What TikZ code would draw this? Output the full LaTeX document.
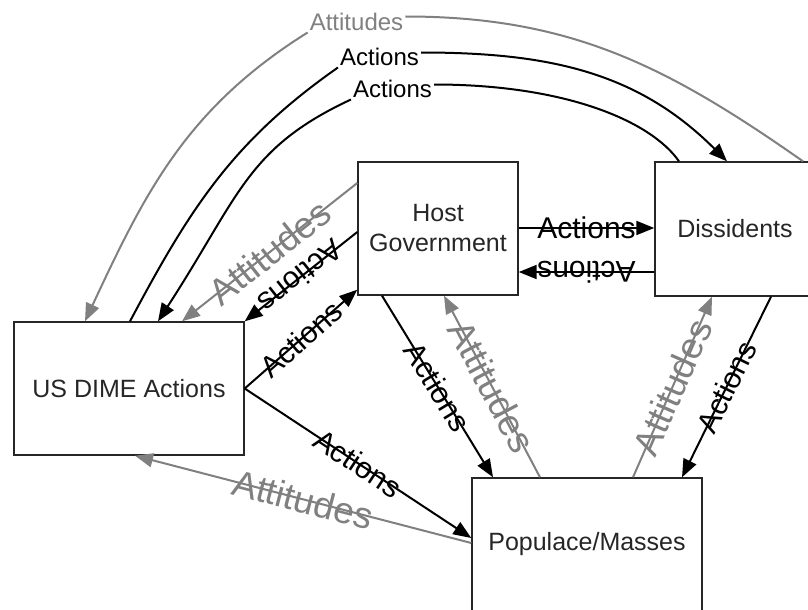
\documentclass[tikz,border=0pt]{standalone}
\usepackage{fontspec}
\setmainfont{Liberation Sans}
\usetikzlibrary{arrows.meta,calc}
\definecolor{attgray}{HTML}{808080}
\begin{document}
\begin{tikzpicture}[x=1pt,y=-1pt,
  box/.style={draw=black!85, line width=1.4pt, fill=white, minimum width=230pt,
    minimum height=133pt, font=\fontsize{25}{30}\selectfont, text=black!85,
    align=center, inner sep=0pt},
  tipshape/.style={-{Triangle[length=18pt,width=14pt]}},
  act/.style={draw=black, line width=2pt, tipshape},
  att/.style={draw=attgray, line width=2pt, tipshape},
  plain/.style={line width=2pt},
  actlbl/.style={font=\fontsize{30}{30}\selectfont, text=black, inner sep=0pt},
  attlbl/.style={font=\fontsize{37}{37}\selectfont, text=attgray, inner sep=0pt},
  toplbl/.style={font=\fontsize{24}{24}\selectfont, fill=white, inner sep=2pt}
]
\path[use as bounding box] (0,0) rectangle (808,610);
\clip (0,0) rectangle (808,610);

% boxes
\node[box] (us) at (129,388.5) {US DIME Actions};
\node[box, minimum width=160pt] (host) at (438,228.5) {Host\\Government};
\node[box, minimum width=160pt, minimum height=134pt] (diss) at (735,229) {Dissidents};
\node[box] (pop) at (587,544.5) {Populace/Masses};

% top arc labels
\node[toplbl, text=attgray] (tA) at (356.5,21.5) {Attitudes};
\node[toplbl, text=black] (tB) at (379.5,56.5) {Actions};
\node[toplbl, text=black] (tC) at (392.5,88.5) {Actions};

% top arcs
\draw[draw=attgray, plain] ($(diss.north)+(68,0)$) to[out=145,in=0] ($(tA.east)+(0,-5)$);
\draw[att] (tA.south west) to[out=212,in=65] ($(us.north)+(-44,0)$);

\draw[draw=black, plain] ($(us.north)+(1,0)$) to[out=62,in=215] (tB.south west);
\draw[act] ($(tB.east)+(0,-4)$) to[out=0,in=135] ($(diss.north)+(-8,0)$);

\draw[draw=black, plain] ($(diss.north)+(-56,0)$) to[out=125,in=0,out distance=50pt,in distance=130pt] ($(tC.east)+(0,-4)$);
\draw[act] (tC.south west) to[out=205,in=57,in distance=150pt] ($(us.north)+(29,0)$);

% straight connectors
\draw[act] ($(host.east)+(0,-0.5)$) -- node[actlbl, sloped] {Actions} ($(diss.west)+(0,-1)$);
\draw[act] ($(diss.west)+(0,43)$) -- node[actlbl, sloped, allow upside down] {Actions} ($(host.east)+(0,43.5)$);
\draw[act] ($(host.west)+(0,3.5)$) -- node[actlbl, sloped, allow upside down] {Actions} (us.north east);
\draw[act] (us.east) -- node[actlbl, sloped] {Actions} ($(host.south west)+(0,-6)$);
\draw[act] (us.east) -- node[actlbl, sloped] {Actions} ($(pop.west)+(0,-6.5)$);
\draw[att] ($(pop.west)+(0,-1.5)$) -- node[attlbl, sloped] {Attitudes} ($(us.south)+(6,0)$);
\draw[act] ($(host.south)+(-56,0)$) -- node[actlbl, sloped] {Actions} ($(pop.north)+(-94,0)$);
\draw[att] ($(pop.north)+(-47,0)$) -- node[attlbl, sloped] {Attitudes} ($(host.south)+(6,0)$);
\draw[att] ($(pop.north)+(46,0)$) -- node[attlbl, sloped] {Attitudes} ($(diss.south)+(-23,0)$);
\draw[act] ($(diss.south)+(36,0)$) -- node[actlbl, sloped] {Actions} ($(pop.north)+(95,0)$);
\draw[att] ($(host.west)+(0,-45.5)$) -- node[attlbl, sloped] {Attitudes} ($(us.north)+(53,0)$);
\end{tikzpicture}
\end{document}
